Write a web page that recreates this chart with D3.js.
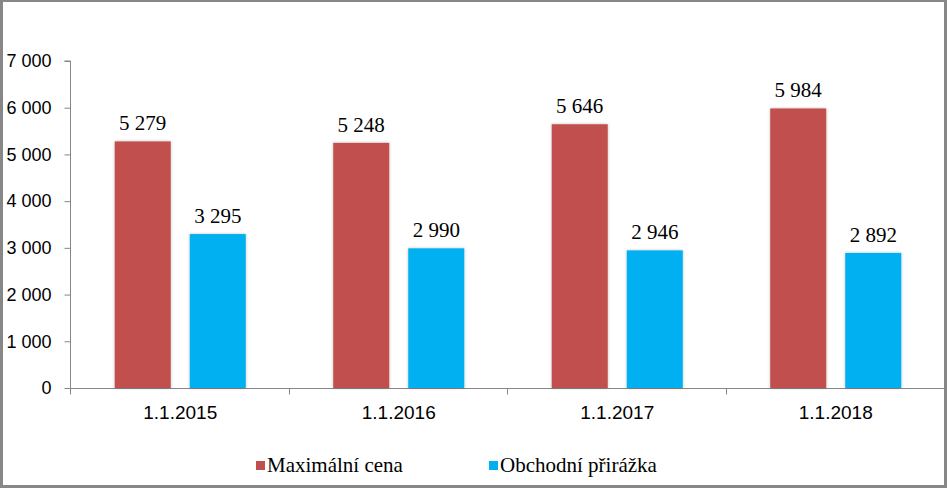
<!DOCTYPE html>
<html>
<head>
<meta charset="utf-8">
<script src="https://cdn.jsdelivr.net/npm/d3@7"></script>
<style>
  html, body { margin: 0; padding: 0; background: #fff; }
  svg { display: block; }
</style>
</head>
<body>
<svg id="chart" width="947" height="488"></svg>
<script>
const categories = ["1.1.2015", "1.1.2016", "1.1.2017", "1.1.2018"];
const seriesNames = ["Maximální cena", "Obchodní přirážka"];
const maxPrice = [5279, 5248, 5646, 5984];
const margin = [3295, 2990, 2946, 2892];
const yTicks = [0, 1000, 2000, 3000, 4000, 5000, 6000, 7000];
const colors = ["#C0504D", "#00B0F0"];

const seriesValues = [maxPrice, margin];
const fmt = v => d3.format(",")(v).replace(/,/g, " ");
const SERIF = '"Liberation Serif"';
const SANS = '"Liberation Sans"';

const svg = d3.select("#chart");
const W = 947, H = 488;

const defs = svg.append("defs");
const f = defs.append("filter").attr("id", "sh").attr("x", "-20%").attr("y", "-20%").attr("width", "140%").attr("height", "140%");
f.append("feDropShadow").attr("dx", 0).attr("dy", 0).attr("stdDeviation", 1.5).attr("flood-color", "#000").attr("flood-opacity", 0.25);

const x0 = d3.scaleBand().domain(categories).range([71, 945]).paddingInner(0).paddingOuter(0);
const x1 = d3.scaleBand().domain(seriesNames).range([0, x0.bandwidth()]).paddingInner(0.2533).paddingOuter(0.583);
const y = d3.scaleLinear().domain([0, 7000]).range([388, 61]);

// y axis
const yAxis = svg.append("g").attr("transform", "translate(70.5,0)")
  .call(d3.axisLeft(y).tickValues(yTicks).tickSize(6).tickPadding(13).tickFormat(fmt));
yAxis.select(".domain").attr("stroke", "#868686").attr("d", `M-6,${y(7000)}H0V${y(0)}`);
yAxis.selectAll(".tick line").attr("stroke", "#868686");
yAxis.selectAll(".tick text").style("font-family", SANS).style("font-size", "18px").attr("fill", "#000");

// x axis
const xa = svg.append("g").attr("transform", "translate(0,388.5)");
xa.append("line").attr("x1", 70).attr("x2", 945).attr("y1", 0).attr("y2", 0).attr("stroke", "#868686");
const bounds = categories.map(c => x0(c));
xa.selectAll("line.tk").data(bounds).join("line").attr("class", "tk")
  .attr("x1", d => Math.round(d) - 0.5).attr("x2", d => Math.round(d) - 0.5).attr("y1", 0).attr("y2", 6).attr("stroke", "#868686");
xa.selectAll("text").data(categories).join("text")
  .attr("x", d => x0(d) + x0.bandwidth() / 2).attr("y", 30)
  .attr("text-anchor", "middle")
  .style("font-family", SANS).style("font-size", "19px").attr("fill", "#000")
  .text(d => d);

// bars
seriesNames.forEach((s, si) => {
  const g = svg.append("g");
  g.selectAll("rect").data(categories).join("rect")
    .attr("x", d => x0(d) + x1(s))
    .attr("y", (d, i) => y(seriesValues[si][i]))
    .attr("width", x1.bandwidth())
    .attr("height", (d, i) => y(0) - y(seriesValues[si][i]))
    .attr("fill", colors[si])
    .attr("filter", "url(#sh)");
  g.selectAll("text").data(categories).join("text")
    .attr("x", d => x0(d) + x1(s) + x1.bandwidth() / 2)
    .attr("y", (d, i) => y(seriesValues[si][i]) - 11)
    .attr("text-anchor", "middle")
    .style("font-family", SERIF).style("font-size", "21px").attr("fill", "#000")
    .text((d, i) => fmt(seriesValues[si][i]));
});

// legend
const legendX = [256, 489];
seriesNames.forEach((s, i) => {
  svg.append("rect").attr("x", legendX[i]).attr("y", 461).attr("width", 9).attr("height", 9).attr("fill", colors[i]);
  svg.append("text").attr("x", legendX[i] + 11).attr("y", 472)
    .style("font-family", SERIF).style("font-size", "21px").attr("fill", "#000")
    .text(s);
});

// frame
svg.append("rect").attr("x", 0).attr("y", 0).attr("width", W).attr("height", 2).attr("fill", "#878787");
svg.append("rect").attr("x", 0).attr("y", 0).attr("width", 3).attr("height", H).attr("fill", "#878787");
svg.append("rect").attr("x", W - 3).attr("y", 0).attr("width", 3).attr("height", H).attr("fill", "#878787");
svg.append("rect").attr("x", 0).attr("y", H - 3).attr("width", W).attr("height", 3).attr("fill", "#878787");
</script>
</body>
</html>
